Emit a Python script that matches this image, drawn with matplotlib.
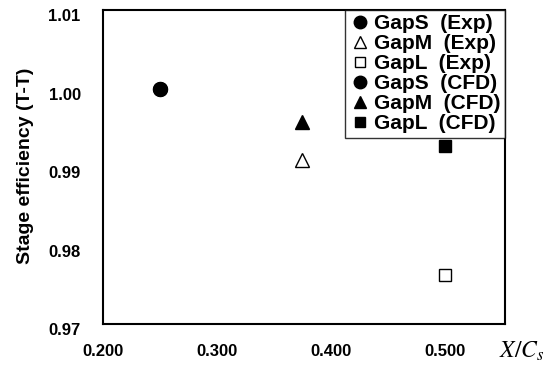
import matplotlib
matplotlib.use("Agg")
import matplotlib.pyplot as plt
import matplotlib.transforms as mtransforms
from matplotlib import font_manager

series_labels = ["GapS  (Exp)", "GapM  (Exp)", "GapL  (Exp)",
                 "GapS  (CFD)", "GapM  (CFD)", "GapL  (CFD)"]
x_vals = [0.25, 0.375, 0.5, 0.25, 0.375, 0.5]
y_vals = [0.99995, 0.9909, 0.9762, 0.99995, 0.9957, 0.9927]
markers = ["o", "^", "s", "o", "^", "s"]
filled = [True, False, False, True, True, True]
sizes = [10, 9.5, 8, 10, 9.5, 8.5]

x_ticks = [0.2, 0.3, 0.4, 0.5]
x_ticklabels = ["0.200", "0.300", "0.400", "0.500"]
y_ticks = [0.97, 0.98, 0.99, 1.00, 1.01]
y_ticklabels = ["0.97", "0.98", "0.99", "1.00", "1.01"]

names = {f.name for f in font_manager.fontManager.ttflist}
narrow = 'Liberation Sans Narrow' if 'Liberation Sans Narrow' in names else 'Liberation Sans'
plt.rcParams['font.family'] = ['Liberation Sans', 'DejaVu Sans']

fig = plt.figure(figsize=(5.53, 3.73), dpi=100)
ax = fig.add_axes([0.186, 0.131, 0.727, 0.842])

for x, y, m, f, s, lab in zip(x_vals, y_vals, markers, filled, sizes, series_labels):
    ax.plot([x], [y], linestyle="none", marker=m, markersize=s,
            markerfacecolor="black" if f else "white",
            markeredgecolor="black", markeredgewidth=1.0, label=lab)

ax.set_xlim(0.2, 0.553)
ax.set_ylim(0.97, 1.01)
ax.set_xticks(x_ticks)
ax.set_xticklabels(x_ticklabels, fontsize=12, fontweight="bold")
ax.set_yticks(y_ticks)
ax.set_yticklabels(y_ticklabels, fontsize=12, fontweight="bold")
ax.tick_params(axis="x", length=0, pad=14)
ax.tick_params(axis="y", length=0, pad=16)
off = mtransforms.ScaledTranslation(0, -5 / 100, fig.dpi_scale_trans)
for lbl in ax.get_yticklabels():
    lbl.set_transform(lbl.get_transform() + off)
for sp in ax.spines.values():
    sp.set_linewidth(1.5)

fig.text(0.047, 0.555, "Stage efficiency (T-T)", fontsize=14, fontweight="bold",
         rotation=90, ha="center", va="center")
fig.text(0.944, 0.057, r"$X/C_s$", fontsize=17, ha="center", va="center",
         math_fontfamily="stix")

leg = ax.legend(loc="upper right", prop={"weight": "bold", "size": 15, "family": narrow},
                frameon=True, fancybox=False, borderaxespad=0.0,
                handletextpad=0.2, handlelength=1.0, labelspacing=0.05,
                borderpad=0.2, markerscale=0.9)
leg.get_frame().set_edgecolor("black")
leg.get_frame().set_linewidth(1.0)

fig.savefig("out.png", dpi=100)
